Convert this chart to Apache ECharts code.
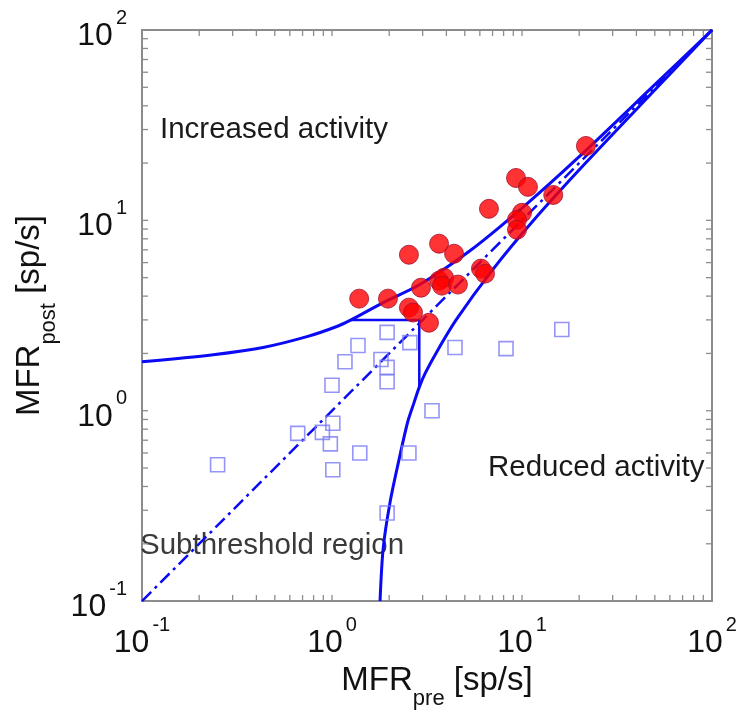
<!DOCTYPE html>
<html>
<head>
<meta charset="utf-8">
<script src="https://cdn.jsdelivr.net/npm/echarts@6/dist/echarts.min.js"></script>
<style>
  html, body { margin: 0; padding: 0; background: #fff; }
  #chart { width: 740px; height: 715px; }
</style>
</head>
<body>
<div id="chart"></div>
<script>
// Mean firing rate before (x) vs after (y), both on log scales.

// Upper significance boundary
const upperX = [0.1, 0.237, 0.434, 0.738, 1.06, 1.26, 1.86, 2.9, 5.3, 10, 20, 50, 100];
const upperY = [1.81, 1.97, 2.15, 2.45, 2.77, 3.0, 3.7, 4.6, 6.9, 11.6, 21.6, 51.6, 100];

// Lower significance boundary
const lowerX = [1.79, 1.86, 2.02, 2.25, 2.5, 2.7, 2.88, 3.1, 3.57, 4.5, 6.9, 11.6, 21.6, 51.6, 100];
const lowerY = [0.1, 0.19, 0.33, 0.55, 0.87, 1.1, 1.33, 1.58, 2.05, 3.0, 5.4, 10.1, 20, 50, 100];

// Identity line
const diagX = [0.1, 100];
const diagY = [0.1, 100];

// Subthreshold corner
const boxX = [1.26, 2.88, 2.88];
const boxY = [3.0, 3.0, 1.33];

// Units above threshold (filled red circles)
const activeX = [1.39, 1.97, 2.54, 3.66, 4.39, 2.94, 3.66, 3.89, 3.79, 4.60, 2.54, 2.67, 3.24, 6.08, 6.39, 6.70, 9.30, 10.75, 10.0, 9.41, 9.41, 14.6, 21.7];
const activeY = [3.88, 3.88, 6.60, 7.54, 6.68, 4.43, 4.82, 5.00, 4.54, 4.60, 3.48, 3.28, 2.90, 5.58, 5.25, 11.5, 16.7, 15.0, 10.96, 10.07, 8.93, 13.6, 24.6];

// Units below threshold (open blue squares)
const quietX = [1.95, 1.37, 2.57, 4.44, 8.24, 16.2, 1.17, 1.81, 1.95, 1.95, 1.00, 3.36, 1.01, 0.66, 0.89, 0.98, 1.40, 2.54, 0.25, 1.01, 1.95];
const quietY = [2.58, 2.20, 2.28, 2.15, 2.12, 2.67, 1.81, 1.86, 1.69, 1.42, 1.36, 1.00, 0.86, 0.76, 0.77, 0.67, 0.60, 0.60, 0.52, 0.49, 0.29];

// Axis ticks
const majorTicks = [0.1, 1, 10, 100];
const minorTicks = [0.2, 0.3, 0.4, 0.5, 0.6, 0.7, 0.8, 0.9, 2, 3, 4, 5, 6, 7, 8, 9, 20, 30, 40, 50, 60, 70, 80, 90];

const zip = (xs, ys) => xs.map((x, i) => [x, ys[i]]);

const FONT = '"Liberation Sans", Arial, Helvetica, sans-serif';
const BLUE = '#0a0af5';
const FRAME = '#8c8c8c';

const tickRich = {
  b: { fontSize: 32, fontFamily: FONT, color: '#111', padding: [12, 0, 0, 0], verticalAlign: 'bottom' },
  s: { fontSize: 20, fontFamily: FONT, color: '#111', verticalAlign: 'top', padding: [0, 0, 0, 3] }
};
const powLabel = v => '{b|10}{s|' + Math.round(Math.log10(v)) + '}';

const nameRich = {
  m: { fontSize: 33, fontFamily: FONT, color: '#111', verticalAlign: 'top', padding: [0, 0, 13, 0] },
  lead: { fontSize: 33, fontFamily: FONT, color: '#111', verticalAlign: 'top', padding: [0, 0, 13, 20] },
  sub: { fontSize: 22, fontFamily: FONT, color: '#111', verticalAlign: 'bottom' }
};

// Short inward ticks on all four sides of the frame
function tickRenderer(dir) {
  return function (params, api) {
    const cs = params.coordSys;
    const len = 6;
    const st = { stroke: FRAME, lineWidth: 1.3 };
    if (dir === 'x') {
      const px = api.coord([api.value(0), 1])[0];
      const yb = cs.y + cs.height, yt = cs.y;
      return { type: 'group', children: [
        { type: 'line', shape: { x1: px, y1: yb, x2: px, y2: yb - len }, style: st },
        { type: 'line', shape: { x1: px, y1: yt, x2: px, y2: yt + len }, style: st }
      ] };
    }
    const py = api.coord([1, api.value(1)])[1];
    const xl = cs.x, xr = cs.x + cs.width;
    return { type: 'group', children: [
      { type: 'line', shape: { x1: xl, y1: py, x2: xl + len, y2: py }, style: st },
      { type: 'line', shape: { x1: xr, y1: py, x2: xr - len, y2: py }, style: st }
    ] };
  };
}

const allTicks = majorTicks.concat(minorTicks);

const chart = echarts.init(document.getElementById('chart'), null, { renderer: 'canvas' });
chart.setOption({
  animation: false,
  backgroundColor: '#fff',
  grid: {
    left: 142, right: 28, top: 30, bottom: 113,
    show: true, borderColor: FRAME, borderWidth: 2, backgroundColor: '#fff'
  },
  xAxis: {
    type: 'log', logBase: 10, min: 0.1, max: 100,
    axisLine: { show: false }, axisTick: { show: false }, splitLine: { show: false },
    axisLabel: { formatter: powLabel, rich: tickRich, margin: 14, showMinLabel: true, showMaxLabel: true },
    name: '{lead|MFR}{sub|pre}{m| [sp/s]}',
    nameLocation: 'middle', nameGap: 56,
    nameTextStyle: { rich: nameRich }
  },
  yAxis: {
    type: 'log', logBase: 10, min: 0.1, max: 100,
    axisLine: { show: false }, axisTick: { show: false }, splitLine: { show: false },
    axisLabel: { formatter: powLabel, rich: tickRich, margin: 15, showMinLabel: true, showMaxLabel: true },
    name: '{m|MFR}{sub|post}{m| [sp/s]}',
    nameLocation: 'middle', nameGap: 80, nameRotate: 90,
    nameTextStyle: { rich: nameRich }
  },
  graphic: [
    { type: 'text', left: 160, top: 115, silent: true,
      style: { text: 'Increased activity', font: '29.5px ' + FONT, fill: '#1a1a1a' } },
    { type: 'text', left: 488, top: 453, silent: true,
      style: { text: 'Reduced activity', font: '29.5px ' + FONT, fill: '#1a1a1a' } },
    { type: 'text', left: 140, top: 531, silent: true,
      style: { text: 'Subthreshold region', font: '29.5px ' + FONT, fill: '#3a3a3a' } }
  ],
  series: [
    { type: 'custom', renderItem: tickRenderer('x'), data: allTicks.map(v => [v, 1]), encode: { x: 0, y: 1 }, silent: true, z: 1 },
    { type: 'custom', renderItem: tickRenderer('y'), data: allTicks.map(v => [1, v]), encode: { x: 0, y: 1 }, silent: true, z: 1 },
    { type: 'line', data: zip(diagX, diagY), showSymbol: false, silent: true,
      lineStyle: { color: BLUE, width: 2.5, type: [13, 5, 3, 5] }, z: 2 },
    { type: 'line', data: zip(upperX, upperY), smooth: 0.3, showSymbol: false, silent: true,
      lineStyle: { color: BLUE, width: 3 }, z: 2 },
    { type: 'line', data: zip(lowerX, lowerY), smooth: 0.3, showSymbol: false, silent: true,
      lineStyle: { color: BLUE, width: 3 }, z: 2 },
    { type: 'line', data: zip(boxX, boxY), showSymbol: false, silent: true,
      lineStyle: { color: BLUE, width: 2.5 }, z: 2 },
    { type: 'scatter', data: zip(quietX, quietY), symbol: 'rect', symbolSize: 14,
      itemStyle: { color: 'rgba(255,255,255,0)', borderColor: '#7b7bf5', borderWidth: 1.6 }, z: 3 },
    { type: 'scatter', data: zip(activeX, activeY), symbol: 'circle', symbolSize: 19,
      itemStyle: { color: '#ff0000', borderColor: '#a01030', borderWidth: 1 }, z: 4 }
  ]
});
</script>
</body>
</html>
